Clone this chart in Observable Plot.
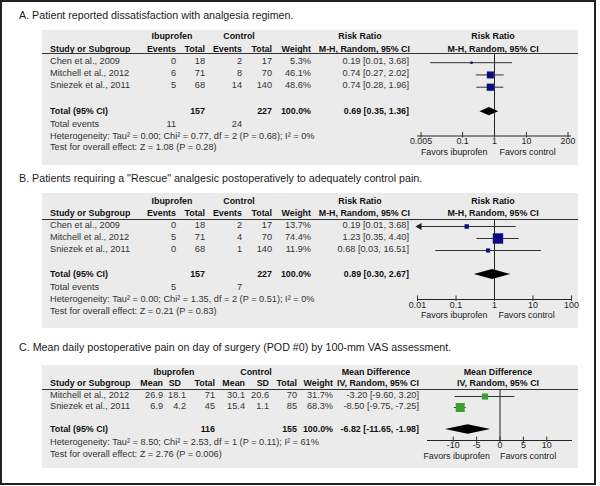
<!DOCTYPE html>
<html><head><meta charset="utf-8">
<script src="https://cdn.jsdelivr.net/npm/d3@7"></script>
<script src="https://cdn.jsdelivr.net/npm/@observablehq/plot@0.6"></script>
<style>
html,body{margin:0;padding:0;background:#fff;}
#root{position:relative;width:600px;height:486px;font-family:"Liberation Sans",Arial,sans-serif;color:#333;overflow:hidden;background:#fff}
.frame{position:absolute;left:0;top:0;width:596px;height:485px;border:2px solid #222;box-sizing:border-box}
.panel{position:absolute;background:#ebebeb}
.t{position:absolute;white-space:nowrap;line-height:1;font-size:9.2px}
.b{font-weight:bold;color:#111;font-size:8.9px}
.title{font-size:10.7px;color:#1a1a1a}
.hr{position:absolute;height:1px;background:#333}
</style></head><body><div id="root"></div>
<script>
// ---------- Data: panel A (dissatisfaction, risk ratio) ----------
const studiesA = ["Chen et al., 2009", "Mitchell et al., 2012", "Sniezek et al., 2011"];
const ibuEventsA = [0, 6, 5];
const ibuTotalA = [18, 71, 68];
const ctrlEventsA = [2, 8, 14];
const ctrlTotalA = [17, 70, 140];
const weightA = [5.3, 46.1, 48.6];
const rrA = [0.19, 0.74, 0.74];
const rrLowA = [0.01, 0.27, 0.28];
const rrHighA = [3.68, 2.02, 1.96];
const totalRRA = [0.69, 0.35, 1.36];
const totalsA = [157, 227];
const totalEventsA = [11, 24];
const hetA = "Heterogeneity: Tau² = 0.00; Chi² = 0.77, df = 2 (P = 0.68); I² = 0%";
const testA = "Test for overall effect: Z = 1.08 (P = 0.28)";
const ticksA = [0.005, 0.1, 1, 10, 200];

// ---------- Data: panel B (rescue analgesic, risk ratio) ----------
const studiesB = ["Chen et al., 2009", "Mitchell et al., 2012", "Sniezek et al., 2011"];
const ibuEventsB = [0, 5, 0];
const ibuTotalB = [18, 71, 68];
const ctrlEventsB = [2, 4, 1];
const ctrlTotalB = [17, 70, 140];
const weightB = [13.7, 74.4, 11.9];
const rrB = [0.19, 1.23, 0.68];
const rrLowB = [0.01, 0.35, 0.03];
const rrHighB = [3.68, 4.40, 16.51];
const totalRRB = [0.89, 0.30, 2.67];
const totalsB = [157, 227];
const totalEventsB = [5, 7];
const hetB = "Heterogeneity: Tau² = 0.00; Chi² = 1.35, df = 2 (P = 0.51); I² = 0%";
const testB = "Test for overall effect: Z = 0.21 (P = 0.83)";
const ticksB = [0.01, 0.1, 1, 10, 100];

// ---------- Data: panel C (mean VAS pain, mean difference) ----------
const studiesC = ["Mitchell et al., 2012", "Sniezek et al., 2011"];
const ibuMeanC = [26.9, 6.9];
const ibuSDC = [18.1, 4.2];
const ibuTotalC = [71, 45];
const ctrlMeanC = [30.1, 15.4];
const ctrlSDC = [20.6, 1.1];
const ctrlTotalC = [70, 85];
const weightC = [31.7, 68.3];
const mdC = [-3.20, -8.50];
const mdLowC = [-9.60, -9.75];
const mdHighC = [3.20, -7.25];
const totalMDC = [-6.82, -11.65, -1.98];
const totalsC = [116, 155];
const hetC = "Heterogeneity: Tau² = 8.50; Chi² = 2.53, df = 1 (P = 0.11); I² = 61%";
const testC = "Test for overall effect: Z = 2.76 (P = 0.006)";
const ticksC = [-10, -5, 0, 5, 10];
const xDomainC = [-15.5, 15.5];

const titles = [
  "A. Patient reported dissatisfaction with analgesia regimen.",
  "B. Patients requiring a \"Rescue\" analgesic postoperatively to adequately control pain.",
  "C. Mean daily postoperative pain on day of surgery (POD #0) by 100-mm VAS assessment."
];

// ---------- helpers ----------
const root = document.getElementById("root");
function txt(s, x, y, align = "left", cls = "") {
  const d = document.createElement("div");
  d.className = "t" + (cls ? " " + cls : "");
  d.textContent = String(s);
  d.style.left = x + "px";
  d.style.top = y + "px";
  const tx = align === "left" ? "0" : align === "right" ? "-100%" : "-50%";
  d.style.transform = `translate(${tx},-50%)`;
  root.appendChild(d);
}
function rect(cls, x0, y0, x1, y1) {
  const d = document.createElement("div");
  d.className = cls;
  d.style.left = x0 + "px"; d.style.top = y0 + "px";
  d.style.width = (x1 - x0) + "px"; d.style.height = (y1 - y0) + "px";
  root.appendChild(d);
}
const f2 = v => v.toFixed(2);
const ci = (e, l, h) => `${f2(e)} [${f2(l)}, ${f2(h)}]`;
const pct = v => v.toFixed(1) + "%";

function forest(o) {
  const W = o.right - o.left;
  const H = o.favY + 8 - o.top;
  const frameH = o.axisY - o.top;
  const topRow = (o.top - o.row0) / o.step;
  const botRow = (o.axisY - o.row0) / o.step;
  const px = o.step; // pixels per row unit
  const [d0, d1] = o.domain;
  const t = o.total;
  const dia = [
    {y: t.row - o.dh, x1: t.est, x2: t.est},
    {y: t.row, x1: t.lo, x2: t.hi},
    {y: t.row + o.dh, x1: t.est, x2: t.est}
  ];
  const p = Plot.plot({
    width: W, height: H,
    marginTop: 0, marginBottom: H - frameH,
    marginLeft: o.axisX0 - o.left, marginRight: o.right - o.axisX1,
    x: {type: o.type, domain: o.domain, insetLeft: o.inset, insetRight: o.inset, axis: null},
    y: {domain: [botRow, topRow], axis: null},
    r: {type: "sqrt", domain: [0, 100], range: [0, o.rmax]},
    style: {fontFamily: "Liberation Sans, Arial, sans-serif", fontSize: "8.9px", color: "#222", background: "transparent", overflow: "visible"},
    marks: [
      // axis line and tick marks
      Plot.ruleY([botRow], {stroke: "#222", strokeWidth: 1}),
      Plot.ruleX(o.ticks, {x: d => d, y1: botRow - 3.5 / px, y2: botRow + 2 / px, stroke: "#333", strokeWidth: 1}),
      // line of no effect
      Plot.ruleX([o.nullVal], {stroke: "#222", strokeWidth: 1}),
      // confidence intervals
      Plot.ruleY(o.rows, {y: "row", x1: d => Math.max(d.lo, d0), x2: d => Math.min(d.hi, d1), stroke: "#333", strokeWidth: 1}),
      Plot.dot(o.rows.filter(d => d.lo <= d0), {x: () => d0, y: "row", symbol: "triangle", rotate: -90, r: 2.6, fill: "#222", dx: 2}),
      Plot.dot(o.rows.filter(d => d.hi >= d1), {x: () => d1, y: "row", symbol: "triangle", rotate: 90, r: 2.6, fill: "#222", dx: -2}),
      // study estimates (area by weight)
      Plot.dot(o.rows, {x: "est", y: "row", r: "w", symbol: "square", fill: o.color}),
      // pooled estimate diamond
      Plot.areaX(dia, {y: "y", x1: "x1", x2: "x2", fill: "#000", curve: "linear"}),
      // tick labels
      Plot.text(o.ticks, {x: d => d, text: d => String(d), frameAnchor: "bottom", dy: o.tickDy, fill: "#222"}),
      // favours labels
      Plot.text([o.favLeft], {x: () => o.nullVal, frameAnchor: "bottom", dy: o.favY - o.axisY, dx: o.favDx[0], textAnchor: "end", fill: "#222"}),
      Plot.text([o.favRight], {x: () => o.nullVal, frameAnchor: "bottom", dy: o.favY - o.axisY, dx: o.favDx[1], textAnchor: "start", fill: "#222"})
    ]
  });
  p.style.position = "absolute";
  p.style.left = o.left + "px";
  p.style.top = o.top + "px";
  root.appendChild(p);
}

// ---------- frame ----------
rect("frame", 0, 0, 596, 485);

// ---------- risk-ratio panels (A, B) ----------
function rrPanel(L, title, studies, ev1, tot1, ev2, tot2, wt, est, lo, hi, tot, totals, totEv, het, test, ticks) {
  const [bx0, by0, bx1, by1] = L.box;
  rect("panel", bx0, by0, bx1, by1);
  txt(title, 19, L.titleY, "left", "title");
  rect("hr", bx0, L.line - 0.5, bx1, L.line + 0.5);
  const C = {study: 50, ev1: 176, tot1: 205, ev2: 242, tot2: 272, wt: 311, ci: 409};
  txt("Ibuprofen", 172, L.h1, "center", "b");
  txt("Control", 239, L.h1, "center", "b");
  txt("Risk Ratio", 360, L.h1, "center", "b");
  txt("Risk Ratio", 493, L.h1, "center", "b");
  txt("Study or Subgroup", C.study, L.h2, "left", "b");
  txt("Events", C.ev1, L.h2, "right", "b");
  txt("Total", C.tot1, L.h2, "right", "b");
  txt("Events", C.ev2, L.h2, "right", "b");
  txt("Total", C.tot2, L.h2, "right", "b");
  txt("Weight", C.wt, L.h2, "right", "b");
  txt("M-H, Random, 95% CI", 410, L.h2, "right", "b");
  txt("M-H, Random, 95% CI", 493, L.h2, "center", "b");
  const rowY = r => L.row0 + r * L.step;
  studies.forEach((s, i) => {
    const y = rowY(i);
    txt(s, C.study, y);
    txt(ev1[i], C.ev1, y, "right");
    txt(tot1[i], C.tot1, y, "right");
    txt(ev2[i], C.ev2, y, "right");
    txt(tot2[i], C.tot2, y, "right");
    txt(pct(wt[i]), C.wt, y, "right");
    txt(ci(est[i], lo[i], hi[i]), C.ci, y, "right");
  });
  const tr = studies.length + 1, ty = rowY(tr);
  txt("Total (95% CI)", C.study, ty, "left", "b");
  txt(totals[0], C.tot1, ty, "right", "b");
  txt(totals[1], C.tot2, ty, "right", "b");
  txt(pct(100), C.wt, ty, "right", "b");
  txt(ci(tot[0], tot[1], tot[2]), C.ci, ty, "right", "b");
  txt("Total events", C.study, L.totEvY);
  txt(totEv[0], C.ev1, L.totEvY, "right");
  txt(totEv[1], C.ev2, L.totEvY, "right");
  txt(het, C.study, L.hetY);
  txt(test, C.study, L.testY);
  forest({
    type: "log", domain: [ticks[0], ticks[ticks.length - 1]], ticks, nullVal: 1,
    rows: studies.map((s, i) => ({est: est[i], lo: lo[i], hi: hi[i], w: wt[i], row: i})),
    total: {est: tot[0], lo: tot[1], hi: tot[2], row: tr},
    color: "#0a0a82", left: 405, right: 582, top: L.line, ...L,
    favLeft: "Favors ibuprofen", favRight: "Favors control"
  });
}

const LA = {titleY: 15, box: [42, 30, 578, 165], h1: 36, h2: 49, line: 53.5, row0: 61.7, step: 12.25, totEvY: 125, hetY: 137, testY: 148, axisY: 135, favY: 154, tickDy: 7.5, axisX0: 417, axisX1: 571, inset: 3.5, rmax: 5.8, dh: 0.34, favDx: [-7, 5]};
const LB = {titleY: 178, box: [42, 193, 578, 328], h1: 201, h2: 213, line: 219, row0: 226, step: 12, totEvY: 288, hetY: 300, testY: 312, axisY: 299, favY: 317, tickDy: 8, axisX0: 417, axisX1: 571, inset: 0, rmax: 6.8, dh: 0.42, favDx: [-7, 4]};

rrPanel(LA, titles[0], studiesA, ibuEventsA, ibuTotalA, ctrlEventsA, ctrlTotalA, weightA, rrA, rrLowA, rrHighA, totalRRA, totalsA, totalEventsA, hetA, testA, ticksA);
rrPanel(LB, titles[1], studiesB, ibuEventsB, ibuTotalB, ctrlEventsB, ctrlTotalB, weightB, rrB, rrLowB, rrHighB, totalRRB, totalsB, totalEventsB, hetB, testB, ticksB);

// ---------- mean-difference panel (C) ----------
(function () {
  const L = {titleY: 347, box: [42, 365, 578, 468], h1: 372, h2: 383, line: 389, row0: 396, step: 11, hetY: 443, testY: 455, axisY: 440, favY: 458.5, tickDy: 7.5, axisX0: 427, axisX1: 572, inset: 0, rmax: 6.15, dh: 0.43, favDx: [-10, 0]};
  const [bx0, by0, bx1, by1] = L.box;
  rect("panel", bx0, by0, bx1, by1);
  txt(titles[2], 19, L.titleY, "left", "title");
  rect("hr", bx0, L.line - 0.5, bx1, L.line + 0.5);
  const C = {study: 50, m1: 163, sd1: 186, tot1: 215, m2: 245, sd2: 269, tot2: 297, wt: 333, ci: 419};
  txt("Ibuprofen", 174, L.h1, "center", "b");
  txt("Control", 256, L.h1, "center", "b");
  txt("Mean Difference", 376, L.h1, "center", "b");
  txt("Mean Difference", 498, L.h1, "center", "b");
  txt("Study or Subgroup", C.study, L.h2, "left", "b");
  txt("Mean", C.m1, L.h2, "right", "b");
  txt("SD", 181, L.h2, "right", "b");
  txt("Total", C.tot1, L.h2, "right", "b");
  txt("Mean", C.m2, L.h2, "right", "b");
  txt("SD", C.sd2, L.h2, "right", "b");
  txt("Total", C.tot2, L.h2, "right", "b");
  txt("Weight", C.wt, L.h2, "right", "b");
  txt("IV, Random, 95% CI", C.ci, L.h2, "right", "b");
  txt("IV, Random, 95% CI", 498, L.h2, "center", "b");
  const rowY = r => L.row0 + r * L.step;
  studiesC.forEach((s, i) => {
    const y = rowY(i);
    txt(s, C.study, y);
    txt(ibuMeanC[i].toFixed(1), C.m1, y, "right");
    txt(ibuSDC[i].toFixed(1), C.sd1, y, "right");
    txt(ibuTotalC[i], C.tot1, y, "right");
    txt(ctrlMeanC[i].toFixed(1), C.m2, y, "right");
    txt(ctrlSDC[i].toFixed(1), C.sd2, y, "right");
    txt(ctrlTotalC[i], C.tot2, y, "right");
    txt(pct(weightC[i]), C.wt, y, "right");
    txt(ci(mdC[i], mdLowC[i], mdHighC[i]), C.ci, y, "right");
  });
  const tr = studiesC.length + 1, ty = rowY(tr);
  txt("Total (95% CI)", C.study, ty, "left", "b");
  txt(totalsC[0], C.tot1, ty, "right", "b");
  txt(totalsC[1], C.tot2, ty, "right", "b");
  txt(pct(100), C.wt, ty, "right", "b");
  txt(ci(totalMDC[0], totalMDC[1], totalMDC[2]), C.ci, ty, "right", "b");
  txt(hetC, C.study, L.hetY);
  txt(testC, C.study, L.testY);
  forest({
    type: "linear", domain: xDomainC, ticks: ticksC, nullVal: 0,
    rows: studiesC.map((s, i) => ({est: mdC[i], lo: mdLowC[i], hi: mdHighC[i], w: weightC[i], row: i})),
    total: {est: totalMDC[0], lo: totalMDC[1], hi: totalMDC[2], row: tr},
    color: "#3e9e34", left: 415, right: 582, top: L.line, ...L,
    favLeft: "Favors ibuprofen", favRight: "Favors control"
  });
})();
</script>
</body></html>
